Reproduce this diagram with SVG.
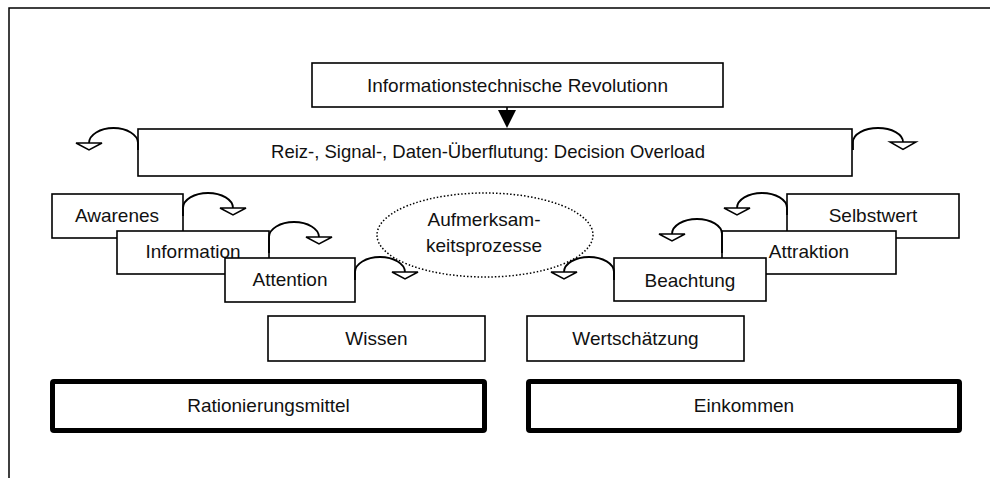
<svg xmlns="http://www.w3.org/2000/svg" width="990" height="478" viewBox="0 0 990 478">
  <defs>
    <style>
      .box { fill: #fff; stroke: #000; stroke-width: 1.6; }
      .bold { fill: #fff; stroke: #000; stroke-width: 5; }
      .lbl { font-family: "Liberation Sans", Arial, sans-serif; font-size: 19px; fill: #111; text-anchor: middle; }
      .arc { fill: none; stroke: #000; stroke-width: 1.8; }
      .head { fill: #fff; stroke: #000; stroke-width: 1.5; stroke-linejoin: miter; }
      .dots { fill: none; stroke: #000; stroke-width: 1.5; stroke-dasharray: 1.5 2; }
    </style>
  </defs>
  <rect width="990" height="478" fill="#fff"/>

  <!-- outer frame (open to the right and bottom) -->
  <rect x="9" y="8" width="1000" height="500" fill="none" stroke="#000" stroke-width="1.5"/>

  <g id="revolution">
    <rect class="box" x="312" y="63" width="411" height="44"/>
    <text class="lbl" x="517.5" y="92">Informationstechnische Revolutionn</text>
  </g>

  <g id="overload">
    <rect class="box" x="138" y="129" width="714" height="47"/>
    <text class="lbl" x="488" y="158" style="font-size:18.5px">Reiz-, Signal-, Daten-Überflutung: Decision Overload</text>
  </g>

  <!-- left staircase -->
  <g id="awarenes">
    <rect class="box" x="52" y="194" width="131" height="44"/>
    <text class="lbl" x="117" y="222">Awarenes</text>
  </g>
  <g id="information">
    <rect class="box" x="117" y="231" width="152" height="43"/>
    <text class="lbl" x="193" y="258">Information</text>
  </g>
  <g id="attention">
    <rect class="box" x="225" y="258" width="130" height="44"/>
    <text class="lbl" x="290" y="286">Attention</text>
  </g>

  <!-- right staircase -->
  <g id="selbstwert">
    <rect class="box" x="787" y="194" width="172" height="44"/>
    <text class="lbl" x="873" y="222">Selbstwert</text>
  </g>
  <g id="attraktion">
    <rect class="box" x="722" y="231" width="174" height="43"/>
    <text class="lbl" x="809" y="258">Attraktion</text>
  </g>
  <g id="beachtung">
    <rect class="box" x="614" y="258" width="152" height="43"/>
    <text class="lbl" x="690" y="287">Beachtung</text>
  </g>

  <g id="aufmerksamkeit">
    <ellipse class="dots" cx="485" cy="235" rx="108" ry="42"/>
    <text class="lbl" x="484" y="226">Aufmerksam-</text>
    <text class="lbl" x="484" y="252">keitsprozesse</text>
  </g>

  <g id="wissen">
    <rect class="box" x="268" y="316" width="217" height="45"/>
    <text class="lbl" x="376.5" y="345">Wissen</text>
  </g>
  <g id="wertschaetzung">
    <rect class="box" x="527" y="316" width="217" height="45"/>
    <text class="lbl" x="635.5" y="345">Wertschätzung</text>
  </g>

  <g id="rationierungsmittel">
    <rect class="bold" x="52.5" y="381.5" width="432" height="49" rx="1.5"/>
    <text class="lbl" x="268.5" y="412">Rationierungsmittel</text>
  </g>
  <g id="einkommen">
    <rect class="bold" x="528.5" y="381.5" width="431" height="49" rx="1.5"/>
    <text class="lbl" x="744" y="412">Einkommen</text>
  </g>

  <g id="connectors">
    <!-- revolution -> overload -->
    <line x1="507" y1="107" x2="507" y2="112" stroke="#000" stroke-width="1.6"/>
    <polygon points="498,110 516,110 507,128" fill="#000"/>

    <!-- overflow arrows off the overload bar -->
    <path class="arc" d="M138,150 V143 A24.5,15 0 0 0 89,143"/>
    <polygon class="head" points="76,143 102,143 89,150"/>
    <path class="arc" d="M853,150 V142 A25,14 0 0 1 903,142"/>
    <polygon class="head" points="890,142 916,142 903,149.5"/>

    <!-- left staircase arrows -->
    <path class="arc" d="M183,216 V208 A25,15 0 0 1 233,208"/>
    <polygon class="head" points="220,208 246,208 233,215"/>
    <path class="arc" d="M269,253 V237 A25,15 0 0 1 319,237"/>
    <polygon class="head" points="306,237 332,237 319,244"/>
    <path class="arc" d="M355,280 V272 A25,15 0 0 1 405,272"/>
    <polygon class="head" points="392,272 418,272 405,279"/>

    <!-- right staircase arrows -->
    <path class="arc" d="M787,215 V208 A25,15 0 0 0 737,208"/>
    <polygon class="head" points="724,208 750,208 737,215"/>
    <path class="arc" d="M722,253 V234 A25,15 0 0 0 672,234"/>
    <polygon class="head" points="659,234 685,234 672,241"/>
    <path class="arc" d="M614,280 V272 A25,15 0 0 0 564,272"/>
    <polygon class="head" points="551,272 577,272 564,279"/>
  </g>
</svg>
